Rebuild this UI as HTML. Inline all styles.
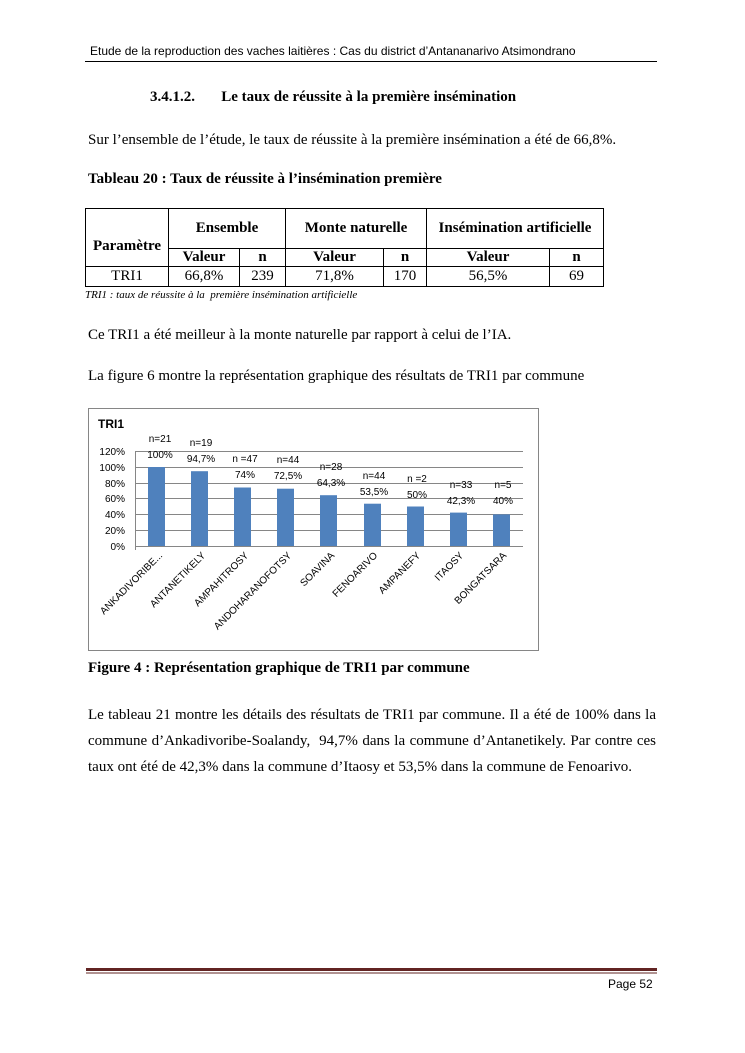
<!DOCTYPE html>
<html><head><meta charset="utf-8"><style>
body{margin:0;background:#fff;}
.pg{position:relative;width:745px;height:1053px;overflow:hidden;font-family:"Liberation Serif",serif;color:#000;}
.a{position:absolute;white-space:nowrap;}
.t{font-size:15px;}
table{position:absolute;left:85px;top:208px;border-collapse:collapse;font-size:15px;}
td{border:1px solid #000;text-align:center;padding:0;}
</style></head><body><div class="pg">
<div class="a" style="left:90px;top:44px;font-family:'Liberation Sans',sans-serif;font-size:12px;">Etude de la reproduction des vaches laitières : Cas du district d’Antananarivo Atsimondrano</div>
<div class="a" style="left:85px;top:61px;width:572px;border-top:1px solid #000;"></div>
<div class="a t" style="left:150px;top:89px;font-weight:bold;">3.4.1.2.&nbsp;&nbsp;&nbsp;&nbsp;&nbsp;&nbsp;&nbsp;Le taux de réussite à la première insémination</div>
<div class="a t" style="left:88px;top:132px;">Sur l’ensemble de l’étude, le taux de réussite à la première insémination a été de 66,8%.</div>
<div class="a t" style="left:88px;top:171px;font-weight:bold;">Tableau 20 : Taux de réussite à l’insémination première</div>
<table>
<tr style="height:40px;font-weight:bold;"><td rowspan="2" style="width:82px;padding-top:18px;">Paramètre</td><td colspan="2">Ensemble</td><td colspan="2">Monte naturelle</td><td colspan="2">Insémination artificielle</td></tr>
<tr style="height:18px;font-weight:bold;"><td style="width:70px;">Valeur</td><td style="width:45px;">n</td><td style="width:97px;">Valeur</td><td style="width:42px;">n</td><td style="width:122px;">Valeur</td><td style="width:53px;">n</td></tr>
<tr style="height:20px;"><td>TRI1</td><td>66,8%</td><td>239</td><td>71,8%</td><td>170</td><td>56,5%</td><td>69</td></tr>
</table>
<div class="a" style="left:85px;top:289px;font-size:11px;font-style:italic;">TRI1 : taux de réussite à la&nbsp; première insémination artificielle</div>
<div class="a t" style="left:88px;top:327px;">Ce TRI1 a été meilleur à la monte naturelle par rapport à celui de l’IA.</div>
<div class="a t" style="left:88px;top:368px;">La figure 6 montre la représentation graphique des résultats de TRI1 par commune</div>
<svg class="a" style="left:0;top:0;" width="745" height="1053" font-family="Liberation Sans, sans-serif">
<rect x="88.5" y="408.5" width="450" height="242" fill="#fff" stroke="#868686"/>
<text x="98" y="428" font-size="12" font-weight="bold">TRI1</text>
<g stroke="#868686" stroke-width="1">
<line x1="135" y1="451.5" x2="523" y2="451.5"/><line x1="135" y1="467.5" x2="523" y2="467.5"/>
<line x1="135" y1="483.5" x2="523" y2="483.5"/><line x1="135" y1="498.5" x2="523" y2="498.5"/>
<line x1="135" y1="514.5" x2="523" y2="514.5"/><line x1="135" y1="530.5" x2="523" y2="530.5"/>
<line x1="135.5" y1="451" x2="135.5" y2="550"/>
</g>
<g font-size="10" text-anchor="end">
<text x="125" y="455">120%</text><text x="125" y="471">100%</text><text x="125" y="487">80%</text>
<text x="125" y="502">60%</text><text x="125" y="518">40%</text><text x="125" y="534">20%</text><text x="125" y="550">0%</text>
</g>
<g fill="#4f81bd">
<rect x="148" y="467" width="17" height="79"/><rect x="191" y="471.2" width="17" height="74.8"/>
<rect x="234" y="487.5" width="17" height="58.5"/><rect x="277" y="488.7" width="17" height="57.3"/>
<rect x="320" y="495.2" width="17" height="50.8"/><rect x="364" y="503.7" width="17" height="42.3"/>
<rect x="407" y="506.5" width="17" height="39.5"/><rect x="450" y="512.6" width="17" height="33.4"/>
<rect x="493" y="514.4" width="17" height="31.6"/>
</g>
<line x1="135" y1="546.5" x2="523" y2="546.5" stroke="#868686"/>
<g font-size="10" text-anchor="middle">
<text x="160" y="442">n=21</text><text x="160" y="458">100%</text>
<text x="201" y="446">n=19</text><text x="201" y="462">94,7%</text>
<text x="245" y="462">n =47</text><text x="245" y="478">74%</text>
<text x="288" y="463">n=44</text><text x="288" y="479">72,5%</text>
<text x="331" y="470">n=28</text><text x="331" y="486">64,3%</text>
<text x="374" y="479">n=44</text><text x="374" y="495">53,5%</text>
<text x="417" y="482">n =2</text><text x="417" y="498">50%</text>
<text x="461" y="488">n=33</text><text x="461" y="504">42,3%</text>
<text x="503" y="488">n=5</text><text x="503" y="504">40%</text>
</g>
<g font-size="10" text-anchor="end">
<text transform="translate(163,556) rotate(-45)">ANKADIVORIBE...</text>
<text transform="translate(206,556) rotate(-45)">ANTANETIKELY</text>
<text transform="translate(249,556) rotate(-45)">AMPAHITROSY</text>
<text transform="translate(292,556) rotate(-45)">ANDOHARANOFOTSY</text>
<text transform="translate(335,556) rotate(-45)">SOAVINA</text>
<text transform="translate(378,556) rotate(-45)">FENOARIVO</text>
<text transform="translate(421,556) rotate(-45)">AMPANEFY</text>
<text transform="translate(464,556) rotate(-45)">ITAOSY</text>
<text transform="translate(507,556) rotate(-45)">BONGATSARA</text>
</g>
<rect x="86" y="968" width="571" height="3" fill="#622423"/>
<rect x="86" y="972.5" width="571" height="1" fill="#622423"/>
</svg>
<div class="a t" style="left:88px;top:660px;font-weight:bold;">Figure 4 : Représentation graphique de TRI1 par commune</div>
<div class="a t" style="left:88px;top:702px;width:568px;white-space:normal;line-height:26px;text-align:justify;">Le tableau 21 montre les détails des résultats de TRI1 par commune. Il a été de 100% dans la commune d’Ankadivoribe-Soalandy,&nbsp; 94,7% dans la commune d’Antanetikely. Par contre ces taux ont été de 42,3% dans la commune d’Itaosy et 53,5% dans la commune de Fenoarivo.</div>
<div class="a" style="left:608px;top:977px;font-family:'Liberation Sans',sans-serif;font-size:12px;">Page 52</div>
</div></body></html>
